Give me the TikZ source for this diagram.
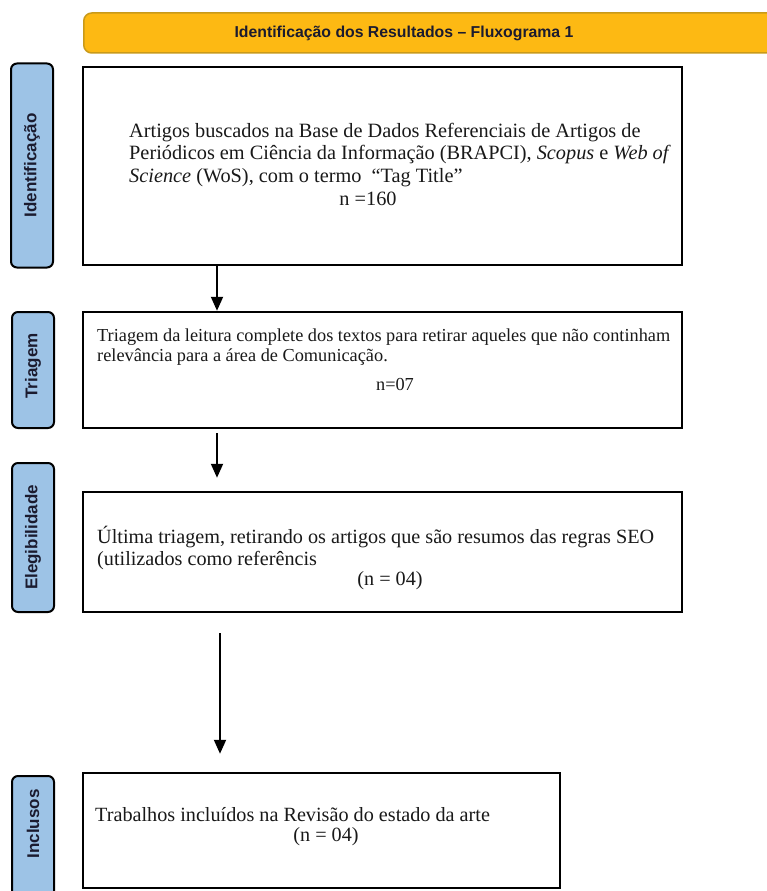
\documentclass[tikz,border=0pt]{standalone}
\usepackage{fontspec}
\setmainfont{Liberation Serif}
\newfontfamily\arialf{Liberation Sans}
\usetikzlibrary{arrows.meta}
\definecolor{barfill}{HTML}{FDB913}
\definecolor{bardraw}{HTML}{C99A1A}
\definecolor{labfill}{HTML}{9DC3E6}
\definecolor{labtext}{HTML}{1B1B2F}
\begin{document}
\begin{tikzpicture}[x=1pt,y=-1pt,
 box/.style={draw=black, line width=2.5pt, minimum width=599pt, inner sep=0pt},
 lab/.style={draw=black, fill=labfill, line width=2pt, rounded corners=6pt, minimum width=42pt, inner sep=0pt},
 labtxt/.style={rotate=90, font=\arialf\bfseries\fontsize{17}{20}\selectfont, text=labtext, inner sep=0pt},
 body/.style={font=\fontsize{20.3}{22.5}\selectfont, align=left, inner sep=0pt, anchor=west, text=black!90},
 arr/.style={line width=2pt, -{Triangle[width=12pt,length=14pt]}}]

\useasboundingbox[fill=white] (0,0) rectangle (766,891);

% title bar
\node[draw=bardraw, fill=barfill, line width=1.5pt, rounded corners=8pt,
      minimum width=720pt, minimum height=40pt, anchor=west] (title) at (83,33) {};
\node[font=\arialf\bfseries\fontsize{15.8}{18}\selectfont, text=labtext] (titletxt) at (404,33)
  {Identificação dos Resultados – Fluxograma 1};

% boxes
\node[box, minimum height=198pt] (b1) at (382.5,166) {};
\node[box, minimum height=116pt] (b2) at (382.5,370) {};
\node[box, minimum height=120pt] (b3) at (382.5,552) {};
\node[box, minimum width=477pt, minimum height=115pt] (b4) at (321.5,830.5) {};

% side labels
\node[lab, minimum height=204pt] (l1) at (32,165.5) {};
\node[labtxt] (l1t) at (l1) {Identificação};
\node[lab, minimum height=116pt] (l2) at (33,370) {};
\node[labtxt] (l2t) at (33,366) {Triagem};
\node[lab, minimum height=149pt] (l3) at (33,537.5) {};
\node[labtxt] (l3t) at (l3) {Elegibilidade};
\node[lab, minimum height=140pt] (l4) at (33,846) {};
\node[labtxt] (l4t) at (33,824) {Inclusos};

% texts
\node[body] (t1) at (129,155) {Artigos buscados na Base de Dados Referenciais de Artigos de\\
  Periódicos em Ciência da Informação (BRAPCI), \textit{Scopus} e \textit{Web of}\\
  \textit{Science} (WoS), com o termo \ “Tag Title”};
\node[body, anchor=center] (n1) at (368,199) {n =160};

\node[body, font=\fontsize{18.3}{20}\selectfont] (t2) at (97,347)
  {Triagem da leitura complete dos textos para retirar aqueles que não continham\\
   relevância para a área de Comunicação.};
\node[body, anchor=center, font=\fontsize{18.3}{20}\selectfont] (n2) at (395,384) {n=07};

\node[body, font=\fontsize{20.2}{22}\selectfont] (t3) at (97,548)
  {Última triagem, retirando os artigos que são resumos das regras SEO\\
   (utilizados como referêncis};
\node[body, anchor=center, font=\fontsize{20.2}{22}\selectfont] (n3) at (390,581) {(n = 04)};

\node[body, font=\fontsize{20.2}{22}\selectfont] (t4) at (95,815)
  {Trabalhos incluídos na Revisão do estado da arte};
\node[body, anchor=center, font=\fontsize{20.2}{22}\selectfont] (n4) at (326,837) {(n = 04)};

% arrows
\coordinate (ax1) at (217,0);
\coordinate (ax3) at (220,0);
\draw[arr] (ax1 |- b1.south) -- (ax1 |- b2.north);
\draw[arr, shorten <=4pt, shorten >=13pt] (ax1 |- b2.south) -- (ax1 |- b3.north);
\draw[arr, shorten <=20pt, shorten >=18pt] (ax3 |- b3.south) -- (ax3 |- b4.north);
\end{tikzpicture}
\end{document}
